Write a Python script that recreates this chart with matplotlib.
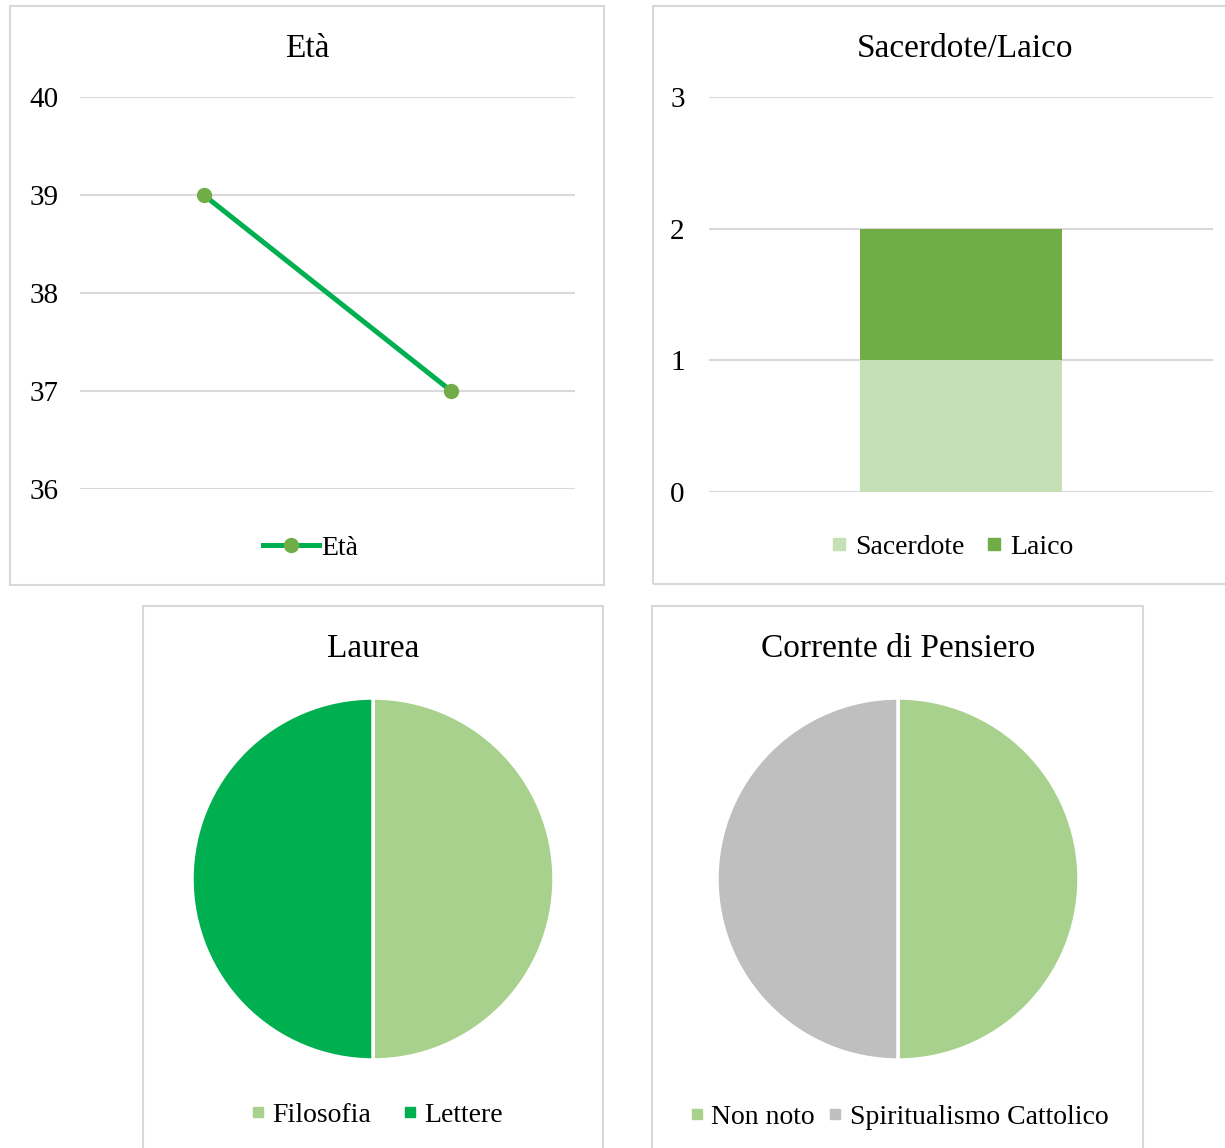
import matplotlib
matplotlib.use('Agg')
import matplotlib.pyplot as plt
from matplotlib.patches import Rectangle
from matplotlib.lines import Line2D

plt.rcParams['font.family'] = ['Liberation Serif', 'DejaVu Serif']

# dati
eta_categorie = ['A', 'B']
eta_valori = [39, 37]
eta_ticks = [36, 37, 38, 39, 40]

stato_categorie = ['Totale']
sacerdote = [1]
laico = [1]
stato_ticks = [0, 1, 2, 3]

laurea_etichette = ['Filosofia', 'Lettere']
laurea_valori = [1, 1]

corrente_etichette = ['Non noto', 'Spiritualismo Cattolico']
corrente_valori = [1, 1]

W, H = 1225, 1148
fig = plt.figure(figsize=(W / 100, H / 100), dpi=100)
fig.patch.set_facecolor('white')

GRID = '#D9D9D9'
TXT = 20
TICK = 21
TITLE = 24


def box(x0, y0, x1, y1):
    return [x0 / W, 1 - y1 / H, (x1 - x0) / W, (y1 - y0) / H]


def pt(x, y):
    return (x / W, 1 - y / H)


def cornice(x0, y0, x1, y1):
    r = Rectangle((x0 / W, 1 - y1 / H), (x1 - x0) / W, (y1 - y0) / H,
                  transform=fig.transFigure, fill=False,
                  edgecolor=GRID, lw=1.5)
    fig.add_artist(r)


def pulisci(ax):
    for s in ax.spines.values():
        s.set_visible(False)
    ax.tick_params(length=0, labelsize=TICK)
    ax.set_xticks([])
    ax.yaxis.grid(True, color=GRID, lw=1.5)
    ax.set_axisbelow(True)


# --- Età ---
cornice(10, 6, 604, 585)
ax1 = fig.add_axes(box(80, 97, 575, 489))
pulisci(ax1)
ax1.plot(range(len(eta_valori)), eta_valori, color='#00B050', lw=3.6,
         marker='o', markersize=10, markerfacecolor='#70AD47',
         markeredgecolor='#70AD47', zorder=3, clip_on=False)
ax1.set_xlim(-0.5, len(eta_valori) - 0.5)
ax1.set_ylim(eta_ticks[0], eta_ticks[-1])
ax1.set_yticks(eta_ticks)
ax1.tick_params(axis='y', pad=15.5)
fig.text(*pt(307, 49), 'Età', fontsize=TITLE, ha='center', va='center')
h1 = [Line2D([], [], color='#00B050', lw=3.6, marker='o', markersize=10,
             markerfacecolor='#70AD47', markeredgecolor='#70AD47')]
fig.legend(h1, ['Età'], loc='center', bbox_to_anchor=pt(311, 548),
           frameon=False, fontsize=TXT, handlelength=2.0, handletextpad=0.1,
           borderpad=0)

# --- Sacerdote/Laico ---
cornice(653, 6, 1232, 584)
ax2 = fig.add_axes(box(709, 97, 1213, 492))
pulisci(ax2)
ax2.bar(range(len(stato_categorie)), sacerdote, width=0.4, color='#C5E0B4')
ax2.bar(range(len(stato_categorie)), laico, bottom=sacerdote, width=0.4,
        color='#70AD47')
ax2.set_xlim(-0.5, len(stato_categorie) - 0.5)
ax2.set_ylim(stato_ticks[0], stato_ticks[-1])
ax2.set_yticks(stato_ticks)
ax2.tick_params(axis='y', pad=17.5)
fig.text(*pt(965, 49), 'Sacerdote/Laico', fontsize=TITLE, ha='center', va='center')
h2 = [Line2D([], [], ls='none', marker='s', markersize=8.5, color=c)
      for c in ['#C5E0B4', '#70AD47']]
fig.legend(h2, ['Sacerdote', 'Laico'], loc='center', bbox_to_anchor=pt(953, 547),
           frameon=False, fontsize=TXT, handlelength=0.45, handletextpad=0.35,
           columnspacing=0.85, ncol=2, borderpad=0)


# --- torte ---
def torta(ax, valori, colori):
    ax.pie(valori, colors=colori, startangle=90, counterclock=False, radius=1,
           wedgeprops=dict(edgecolor='white', linewidth=2.5))
    ax.set_xlim(-1, 1)
    ax.set_ylim(-1, 1)
    ax.set_aspect('equal')
    ax.axis('off')


cornice(143, 606, 603, 1152)
ax3 = fig.add_axes(box(192, 698, 554, 1060))
torta(ax3, laurea_valori, ['#A9D18E', '#00B050'])
fig.text(*pt(373, 649), 'Laurea', fontsize=TITLE, ha='center', va='center')
h3 = [Line2D([], [], ls='none', marker='s', markersize=7, color=c)
      for c in ['#A9D18E', '#00B050']]
fig.legend(h3, laurea_etichette, loc='center', bbox_to_anchor=pt(378, 1115),
           frameon=False, fontsize=TXT, handlelength=0.35, handletextpad=0.35,
           columnspacing=1.2, ncol=2, borderpad=0)

cornice(652, 606, 1143, 1152)
ax4 = fig.add_axes(box(717, 698, 1079, 1060))
torta(ax4, corrente_valori, ['#A9D18E', '#BFBFBF'])
fig.text(*pt(898, 649), 'Corrente di Pensiero', fontsize=TITLE, ha='center', va='center')
h4 = [Line2D([], [], ls='none', marker='s', markersize=7, color=c)
      for c in ['#A9D18E', '#BFBFBF']]
fig.legend(h4, corrente_etichette, loc='center', bbox_to_anchor=pt(900, 1117),
           frameon=False, fontsize=TXT, handlelength=0.35, handletextpad=0.35,
           columnspacing=0.55, ncol=2, borderpad=0)

fig.savefig('out.png', dpi=100, facecolor='white')
